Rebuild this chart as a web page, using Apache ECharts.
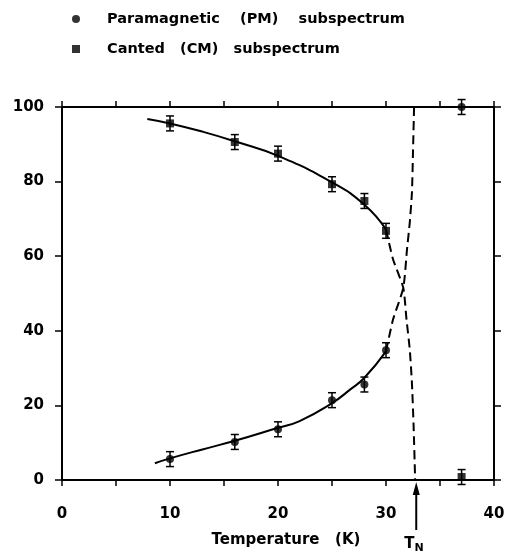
<!DOCTYPE html>
<html>
<head>
<meta charset="utf-8">
<script src="https://cdn.jsdelivr.net/npm/echarts@6/dist/echarts.min.js"></script>
<style>
html,body{margin:0;padding:0;background:#fff;}
#chart{width:509px;height:559px;}
</style>
</head>
<body>
<div id="chart"></div>
<script>
// ---- data ----
const temps = [10, 16, 20, 25, 28, 30, 37];
const pmValues = [5.6, 10.2, 13.6, 21.4, 25.6, 34.8, 100];
const pmErr = [2, 2, 2, 2, 2, 2, 2];
const cmValues = [95.6, 90.6, 87.5, 79.3, 74.8, 66.8, 0.8];
const cmErr = [2, 2, 2, 2, 2, 2, 2];

// fitted curves (solid part and dashed extrapolation)
const cmFitT = [7.9, 10, 13, 16, 20, 25, 28, 30];
const cmFitV = [96.8, 95.6, 93.4, 90.8, 86.9, 79.8, 73.8, 67.2];
const cmDashT = [30, 30.65, 31.6, 31.9, 32.2, 32.4, 32.55, 32.7];
const cmDashV = [67.2, 59.2, 51.5, 43, 35, 26, 15, 0];
const pmFitT = [8.6, 10, 13, 16, 20, 22, 25, 26.7, 28, 30];
const pmFitV = [4.5, 5.8, 8.2, 10.5, 14.0, 15.8, 20.6, 24.3, 27.4, 34.5];
const pmDashT = [30, 30.65, 31.6, 31.95, 32.2, 32.4, 32.5, 32.6];
const pmDashV = [34.5, 43, 51.5, 62, 69, 77, 88, 100];

const TN = 32.8;
const xTicks = [0, 10, 20, 30, 40];
const yTicks = [0, 20, 40, 60, 80, 100];
const pmName = 'Paramagnetic    (PM)    subspectrum';
const cmName = 'Canted   (CM)   subspectrum';
const xName = 'Temperature   (K)';

const FONT = 'DejaVu Sans';
const zip = (a, b) => a.map((v, i) => [v, b[i]]);

function errRender(errs) {
  return function (params, api) {
    const x = api.value(0), lo = api.value(1), hi = api.value(2);
    const p1 = api.coord([x, lo]);
    const p2 = api.coord([x, hi]);
    const w = 4;
    const st = { stroke: '#000', lineWidth: 1.5 };
    return {
      type: 'group',
      children: [
        { type: 'line', shape: { x1: p1[0], y1: p1[1], x2: p2[0], y2: p2[1] }, style: st },
        { type: 'line', shape: { x1: p1[0] - w, y1: p1[1], x2: p1[0] + w, y2: p1[1] }, style: st },
        { type: 'line', shape: { x1: p2[0] - w, y1: p2[1], x2: p2[0] + w, y2: p2[1] }, style: st }
      ]
    };
  };
}

const chart = echarts.init(document.getElementById('chart'));
const axisLine = { show: true, onZero: false, lineStyle: { color: '#000', width: 2 } };
const labelStyle = { color: '#000', fontFamily: FONT, fontWeight: 'bold', fontSize: 15 };

const option = {
  animation: false,
  backgroundColor: '#fff',
  grid: { left: 62, right: 15, top: 107, bottom: 79 },
  legend: {
    orient: 'vertical',
    left: 72,
    top: 11,
    padding: 0,
    itemWidth: 8,
    itemHeight: 8,
    itemGap: 14,
    data: [
      { name: pmName, icon: 'circle' },
      { name: cmName, icon: 'rect' }
    ],
    textStyle: { color: '#000', fontFamily: FONT, fontWeight: 'bold', fontSize: 14.5, lineHeight: 16, padding: [0, 0, 0, 22] }
  },
  xAxis: [
    {
      type: 'value', position: 'bottom', min: 0, max: 40, interval: 5,
      axisLine: axisLine,
      axisTick: { show: true, inside: false, length: 6, lineStyle: { color: '#000', width: 1.5 } },
      axisLabel: {
        ...labelStyle, margin: 27,
        formatter: v => (xTicks.indexOf(v) >= 0 ? String(v) : '')
      },
      splitLine: { show: false },
      name: xName,
      nameLocation: 'middle',
      nameGap: 53,
      nameTextStyle: { color: '#000', fontFamily: FONT, fontWeight: 'bold', fontSize: 15, padding: [0, 0, 0, 16] }
    },
    {
      type: 'value', position: 'top', min: 0, max: 40, interval: 5,
      axisLine: axisLine,
      axisTick: { show: true, inside: false, length: 6, lineStyle: { color: '#000', width: 1.5 } },
      axisLabel: { show: false },
      splitLine: { show: false }
    }
  ],
  yAxis: [
    {
      type: 'value', position: 'left', min: 0, max: 100, interval: 20,
      axisLine: axisLine,
      axisTick: { show: true, inside: false, length: 7, lineStyle: { color: '#000', width: 1.5 } },
      axisLabel: { ...labelStyle, margin: 18, formatter: v => (yTicks.indexOf(v) >= 0 ? String(v) : '') },
      splitLine: { show: false }
    },
    {
      type: 'value', position: 'right', min: 0, max: 100, interval: 20,
      axisLine: axisLine,
      axisTick: { show: true, inside: false, length: 7, lineStyle: { color: '#000', width: 1.5 } },
      axisLabel: { show: false },
      splitLine: { show: false }
    }
  ],
  series: [
    {
      name: 'cmFit', type: 'line', data: zip(cmFitT, cmFitV), smooth: true, showSymbol: false,
      lineStyle: { color: '#000', width: 2 }, silent: true
    },
    {
      name: 'cmDash', type: 'line', data: zip(cmDashT, cmDashV), smooth: 0.2, showSymbol: false,
      lineStyle: { color: '#000', width: 2, type: [9, 5] }, silent: true
    },
    {
      name: 'pmFit', type: 'line', data: zip(pmFitT, pmFitV), smooth: true, showSymbol: false,
      lineStyle: { color: '#000', width: 2 }, silent: true
    },
    {
      name: 'pmDash', type: 'line', data: zip(pmDashT, pmDashV), smooth: 0.2, showSymbol: false,
      lineStyle: { color: '#000', width: 2, type: [9, 5] }, silent: true
    },
    {
      name: 'pmErr', type: 'custom', renderItem: errRender(pmErr),
      data: temps.map((t, i) => [t, pmValues[i] - pmErr[i], pmValues[i] + pmErr[i]]),
      encode: { x: 0, y: [1, 2] }, clip: false, z: 3
    },
    {
      name: 'cmErr', type: 'custom', renderItem: errRender(cmErr),
      data: temps.map((t, i) => [t, cmValues[i] - cmErr[i], cmValues[i] + cmErr[i]]),
      encode: { x: 0, y: [1, 2] }, clip: false, z: 3
    },
    {
      name: pmName, type: 'scatter', data: zip(temps, pmValues), symbol: 'circle', symbolSize: 8,
      itemStyle: { color: '#000' }, z: 4, clip: false
    },
    {
      name: cmName, type: 'scatter', data: zip(temps, cmValues), symbol: 'rect', symbolSize: 8,
      itemStyle: { color: '#000' }, z: 4, clip: false
    }
  ]
};
chart.setOption(option);

// T_N arrow below the axis, positioned through the axis scale
const px = chart.convertToPixel({ xAxisIndex: 0 }, TN);
const py0 = chart.convertToPixel({ yAxisIndex: 0 }, 0);
chart.setOption({
  graphic: [
    { type: 'line', shape: { x1: px, y1: py0 + 50, x2: px, y2: py0 + 10 }, style: { stroke: '#000', lineWidth: 2 }, z: 10 },
    { type: 'polygon', shape: { points: [[px, py0 + 2], [px - 3.5, py0 + 15], [px + 3.5, py0 + 15]] }, style: { fill: '#000' }, z: 10 },
    {
      type: 'text', x: px - 12, y: py0 + 55,
      style: {
        text: '{t|T}{n|N}',
        rich: {
          t: { fontFamily: FONT, fontWeight: 'bold', fontSize: 15, fill: '#000' },
          n: { fontFamily: FONT, fontWeight: 'bold', fontSize: 11, fill: '#000', padding: [8, 0, 0, 0] }
        }
      },
      z: 10
    }
  ]
});
</script>
</body>
</html>
